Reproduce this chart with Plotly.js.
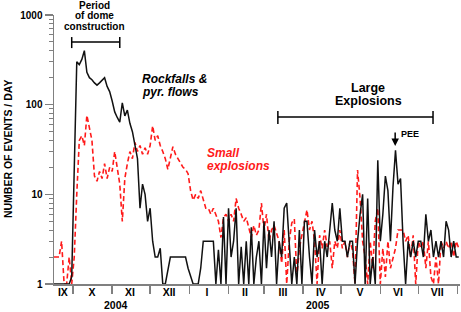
<!DOCTYPE html>
<html>
<head>
<meta charset="utf-8">
<script src="https://cdn.plot.ly/plotly-3.0.1.min.js"></script>
<style>
  html, body { margin: 0; padding: 0; background: #fff; }
  #chart { width: 461px; height: 312px; }
</style>
</head>
<body>
<div id="chart"></div>
<script>
// ---- data ----
const START_DATE = '2004-09-16';
const STEP_DAYS = 2;

const rockfalls = [
  1, 1, 1, 1, 1, 1, 1, 1.2, 14, 300,
  280, 320, 400, 230, 200, 190, 175, 165, 175, 190,
  200, 160, 140, 110, 83, 72, 64, 105, 75, 87,
  62, 50, 35, 25, 7, 13, 10, 5, 7, 3,
  2, 2, 2.5, 1, 1, 1.4, 2, 2, 2, 2,
  2, 2, 2, 1.5, 1.2, 1, 1, 1, 1.5, 3,
  3, 3, 3, 3, 1, 2.4, 1, 5.6, 1, 7,
  2, 3, 7, 1, 2.6, 1, 3, 1, 4.3, 1,
  2, 3, 1, 5, 1.5, 4, 2, 5, 1, 3,
  2, 7, 8, 3, 1, 2, 1, 4, 1, 5,
  5, 2, 1, 4, 2, 3, 1, 3, 2, 4,
  8, 4, 3, 7, 3, 3, 2, 3, 3, 1,
  3, 6, 10, 1, 9, 1, 2, 1, 24, 3,
  6, 16, 11, 3, 12, 31, 13, 15, 3, 1,
  3, 2, 3, 2, 3, 3, 2, 6, 3, 4,
  2, 3, 2, 3, 2, 5, 4, 2, 3, 2,
  2
];

const smallExplosions = [
  2, 2, 2, 3, 1, 1, 2, 1, 2, 10,
  40, 45, 35, 76, 55, 40, 16, 14, 18, 15,
  22, 15, 20, 18, 30, 20, 13, 5, 15, 22,
  30, 25, 38, 30, 35, 28, 33, 28, 35, 58,
  40, 45, 35, 30, 25, 19, 25, 34, 28, 25,
  22, 20, 19, 17, 11, 8.6, 10, 9, 11, 9,
  7, 7, 6, 7, 6, 5, 3.3, 5.5, 6, 5,
  6, 5, 9, 7, 6, 5, 5.5, 4.3, 3.3, 4.5,
  3.5, 4, 8, 4, 6, 3, 4, 4.5, 3.7, 3,
  1.7, 4, 1, 3, 4.8, 5.3, 1.2, 2.5, 3.5, 5,
  6.7, 4, 5, 3, 1, 3.5, 2.5, 4, 2.6, 3,
  1.5, 3, 2.5, 4, 2.5, 3, 2, 3, 2.4, 1,
  18.7, 9, 3, 2, 1, 3, 1.5, 5, 7, 1,
  2.5, 1.2, 3, 1.5, 2, 2.5, 4, 4, 4, 3,
  3.5, 2, 3.5, 1, 3, 2.5, 3, 1.5, 3, 1.2,
  1, 2, 1, 3, 2.5, 3, 2.5, 3, 2, 3,
  2.5
];

const monthStarts = ['2004-10-01','2004-11-01','2004-12-01','2005-01-01','2005-02-01',
  '2005-03-01','2005-04-01','2005-05-01','2005-06-01','2005-07-01','2005-08-01'];
const monthMids = ['2004-09-23','2004-10-16','2004-11-15','2004-12-16','2005-01-15',
  '2005-02-14','2005-03-16','2005-04-15','2005-05-16','2005-06-15','2005-07-16'];
const monthLabels = ['IX','X','XI','XII','I','II','III','IV','V','VI','VII'];
const yearLabels = ['2004', '2005'];
const yTickVals = [1, 10, 100, 1000];
const yTickText = ['1', '10', '100', '1000'];
const yMinorVals = [2,3,4,5,6,7,8,9,20,30,40,50,60,70,80,90,200,300,400,500,600,700,800,900];

// ---- build dates for the daily-sampled series ----
function dateAt(i) {
  const d = new Date(START_DATE + 'T00:00:00Z');
  d.setUTCDate(d.getUTCDate() + i * STEP_DAYS);
  return d.toISOString().slice(0, 10);
}
const dates = rockfalls.map((_, i) => dateAt(i));

const FONT = 'Arial, "Liberation Sans", sans-serif';
const AXIS_COLOR = '#808080';
const X_RANGE = ['2004-09-16', '2005-08-03'];

const traces = [
  {
    x: dates, y: smallExplosions, type: 'scatter', mode: 'lines',
    line: { color: '#ff1a1a', width: 1.6, dash: '5px,3px' },
    hoverinfo: 'skip', showlegend: false
  },
  {
    x: dates, y: rockfalls, type: 'scatter', mode: 'lines',
    line: { color: '#111', width: 1.5 },
    hoverinfo: 'skip', showlegend: false
  }
];

function txt(text, x, y, opts) {
  return Object.assign({
    text: text, x: x, y: y, xref: 'paper', yref: 'paper',
    showarrow: false, xanchor: 'center', yanchor: 'middle',
    font: { family: FONT, size: 10, color: '#000' }
  }, opts || {});
}

const annotations = [
  txt('<b>Period</b>', 0.1007, 1.037),
  txt('<b>of dome</b>', 0.1007, 1.0),
  txt('<b>construction</b>', 0.1007, 0.959),
  txt('<b><i>Rockfalls &</i></b>', 0.2113, 0.762, { xanchor: 'left', font: { family: FONT, size: 12, color: '#000' } }),
  txt('<b><i>pyr. flows</i></b>', 0.2113, 0.714, { xanchor: 'left', font: { family: FONT, size: 12, color: '#000' } }),
  txt('<b><i>Small</i></b>', 0.371, 0.487, { xanchor: 'left', font: { family: FONT, size: 12, color: '#ff1a1a' } }),
  txt('<b><i>explosions</i></b>', 0.371, 0.4387, { xanchor: 'left', font: { family: FONT, size: 12, color: '#ff1a1a' } }),
  txt('<b>Large</b>', 0.774, 0.7286, { font: { family: FONT, size: 12.5, color: '#000' } }),
  txt('<b>Explosions</b>', 0.774, 0.680, { font: { family: FONT, size: 12.5, color: '#000' } }),
  txt('<b>PEE</b>', 0.850, 0.5576, { xanchor: 'left', font: { family: FONT, size: 9, color: '#000' } }),
  {
    text: '', x: 0.8403, y: 0.513, xref: 'paper', yref: 'paper',
    showarrow: true, ax: 0, ay: -15, arrowhead: 2, arrowsize: 1, arrowwidth: 1.5, arrowcolor: '#000'
  },
  txt('<b>NUMBER OF EVENTS / DAY</b>', -0.113, 0.502, { textangle: -90, font: { family: FONT, size: 10.5, color: '#000' } }),
  txt('<b>' + yearLabels[0] + '</b>', 0.1523, -0.078, { font: { family: FONT, size: 10.5, color: '#000' } }),
  txt('<b>' + yearLabels[1] + '</b>', 0.651, -0.078, { font: { family: FONT, size: 10.5, color: '#000' } })
];

function bracket(x0, x1, y, capTop, capBot) {
  const line = { color: '#000', width: 1.5 };
  return [
    { type: 'line', xref: 'x', yref: 'paper', x0: x0, x1: x1, y0: y, y1: y, line: line },
    { type: 'line', xref: 'x', yref: 'paper', x0: x0, x1: x0, y0: capTop, y1: capBot, line: line },
    { type: 'line', xref: 'x', yref: 'paper', x0: x1, x1: x1, y0: capTop, y1: capBot, line: line }
  ];
}

const shapes = [].concat(
  bracket('2004-09-30', '2004-11-07', 0.8996, 0.918, 0.877),
  bracket('2005-03-12', '2005-07-12 16:00', 0.621, 0.643, 0.595)
);

const layout = {
  width: 461, height: 312,
  margin: { l: 54, r: 1, t: 15, b: 28 },
  paper_bgcolor: '#fff', plot_bgcolor: '#fff',
  showlegend: false,
  font: { family: FONT, color: '#000' },
  xaxis: {
    type: 'date', range: X_RANGE, fixedrange: true,
    tickmode: 'array', tickvals: monthStarts, showticklabels: false,
    ticks: 'outside', ticklen: 8, tickwidth: 1.5, tickcolor: AXIS_COLOR,
    showline: true, linecolor: AXIS_COLOR, linewidth: 1.5,
    showgrid: false, zeroline: false
  },
  xaxis2: {
    type: 'date', range: X_RANGE, overlaying: 'x', anchor: 'y', side: 'bottom', fixedrange: true,
    tickmode: 'array', tickvals: monthMids, ticktext: monthLabels.map(s => '<b>' + s + '</b>'),
    ticks: '', ticklen: 0,
    tickfont: { family: FONT, size: 10.5, color: '#000' },
    showline: false, showgrid: false, zeroline: false
  },
  yaxis: {
    type: 'log', range: [0, 3], fixedrange: true,
    tickmode: 'array', tickvals: yTickVals, ticktext: yTickText.map(s => '<b>' + s + '</b>'),
    tickfont: { family: FONT, size: 10, color: '#000' },
    ticks: 'outside', ticklen: 8, tickwidth: 1.5, tickcolor: AXIS_COLOR,
    minor: { tickmode: 'array', tickvals: yMinorVals, ticks: 'outside', ticklen: 4, tickwidth: 1, tickcolor: AXIS_COLOR, showgrid: false },
    showline: true, linecolor: AXIS_COLOR, linewidth: 1.5,
    showgrid: false, zeroline: false
  },
  annotations: annotations,
  shapes: shapes
};

// invisible helper trace so the label axis is drawn
traces.push({ x: [monthMids[0]], y: [1], xaxis: 'x2', yaxis: 'y', mode: 'markers',
  marker: { opacity: 0 }, hoverinfo: 'skip', showlegend: false });

Plotly.newPlot('chart', traces, layout, { staticPlot: true, displayModeBar: false });
</script>
</body>
</html>
